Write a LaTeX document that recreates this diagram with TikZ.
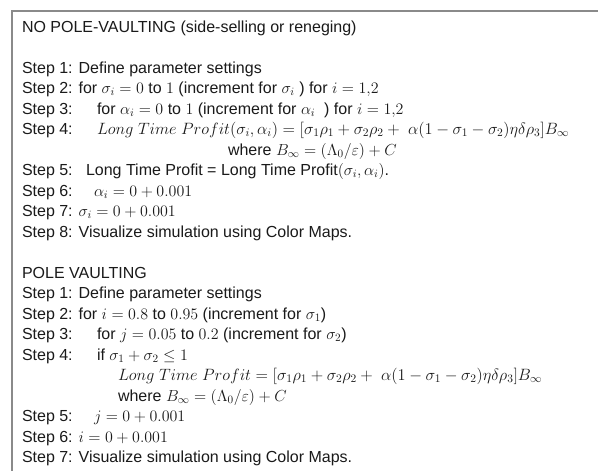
\RequirePackage{fix-cm}
\documentclass[tikz,border=0pt]{standalone}
\usepackage{fontspec}
\setmainfont{Liberation Sans}
\definecolor{boxgray}{HTML}{8A8A8A}
\definecolor{ink}{HTML}{1A1A1A}
\tikzset{
  ln/.style={anchor=base west, inner sep=0pt, outer sep=0pt, text=ink,
             font=\fontsize{16}{20}\selectfont},
  eq/.style={ln, font=\fontsize{16.4}{20}\selectfont},
  frame/.style={draw=boxgray, line width=1.5pt}
}
\newcommand{\LTP}{Long\ Time\ Profit}
\begin{document}
\begin{tikzpicture}[x=1pt,y=-1pt]
\useasboundingbox (0,0) rectangle (598,471);
\fill[white] (0,0) rectangle (598,471);
\coordinate (bl) at (12,471);
\coordinate (tl) at (12,11);
\coordinate (tr) at (598,11);
\draw[frame] (bl) -- (tl) -- (tr);
% line k baseline = 32 + 20.5 k
\node[ln] (t0) at (22,32) {NO POLE-VAULTING (side-selling or reneging)};
\node[ln] (a1) at (22,73) {Step 1: Define parameter settings};
\node[ln] (a2) at (22,93.5) {Step 2: for $\sigma_i = 0\ \mathrm{to}\ 1$ (increment for $\sigma_i$ ) for $i = 1{,}2$};
\node[ln] (a3) at (22,114) {Step 3:};
\node[ln] (a3b) at (97,114) {for $\alpha_i = 0\ \mathrm{to}\ 1$ (increment for $\alpha_i$\ \ ) for $i = 1{,}2$};
\node[ln] (a4) at (22,134.5) {Step 4:};
\node[eq] (a4b) at (97,134.5) {$\LTP(\sigma_i,\alpha_i) = [\sigma_1\rho_1 + \sigma_2\rho_2 +\ \alpha(1-\sigma_1-\sigma_2)\eta\delta\rho_3]B_\infty$};
\node[ln] (a4c) at (228,155) {where $B_\infty = (\Lambda_0/\varepsilon) + C$};
\node[ln] (a5) at (22,175.5) {Step 5:};
\node[ln] (a5b) at (86,175.5) {Long Time Profit = Long Time Profit$(\sigma_i,\alpha_i)$.};
\node[ln] (a6) at (22,196) {Step 6:};
\node[ln] (a6b) at (94,196) {$\alpha_i = 0 + 0.001$};
\node[ln] (a7) at (22,216.5) {Step 7: $\sigma_i = 0 + 0.001$};
\node[ln] (a8) at (22,237) {Step 8: Visualize simulation using Color Maps.};
\node[ln] (t1) at (22,278) {POLE VAULTING};
\node[ln] (b1) at (22,298.5) {Step 1: Define parameter settings};
\node[ln] (b2) at (22,319) {Step 2: for $i = 0.8\ \mathrm{to}\ 0.95$ (increment for $\sigma_1$)};
\node[ln] (b3) at (22,339.5) {Step 3:};
\node[ln] (b3b) at (97,339.5) {for $j = 0.05\ \mathrm{to}\ 0.2$ (increment for $\sigma_2$)};
\node[ln] (b4) at (22,360) {Step 4:};
\node[ln] (b4b) at (97,360) {if $\sigma_1 + \sigma_2 \le 1$};
\node[eq] (b4c) at (118,380.5) {$\LTP = [\sigma_1\rho_1 + \sigma_2\rho_2 +\ \alpha(1-\sigma_1-\sigma_2)\eta\delta\rho_3]B_\infty$};
\node[ln] (b4d) at (118,401) {where $B_\infty = (\Lambda_0/\varepsilon) + C$};
\node[ln] (b5) at (22,421.5) {Step 5:};
\node[ln] (b5b) at (94,421.5) {$j = 0 + 0.001$};
\node[ln] (b6) at (22,442) {Step 6: $i = 0 + 0.001$};
\node[ln] (b7) at (22,462.5) {Step 7: Visualize simulation using Color Maps.};
\end{tikzpicture}
\end{document}
